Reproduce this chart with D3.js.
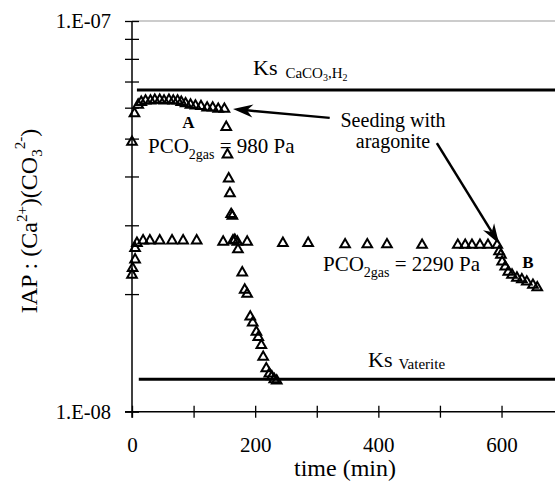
<!DOCTYPE html>
<html><head><meta charset="utf-8">
<script src="https://cdnjs.cloudflare.com/ajax/libs/d3/7.8.5/d3.min.js"></script>
<style>
body{margin:0;background:#fff;}
svg text{font-family:"Liberation Serif","Tinos","Times New Roman","DejaVu Serif",serif;}
</style></head>
<body><svg id="c" width="555" height="485"></svg>
<script>
// ---- data ----
const s1Time = [0,4,10,15,22,30,37,45,52,60,67,74,80,87,95,103,112,122,131,140,150,153,155,157,159,161,163,167,172,179,183,187,192,196,202,205,210,213,218,223,227,231,235];
const s1IAP  = [4.9e-8,5.8e-8,6.1e-8,6.2e-8,6.25e-8,6.25e-8,6.28e-8,6.28e-8,6.25e-8,6.28e-8,6.25e-8,6.25e-8,6.2e-8,6.15e-8,6.1e-8,6.07e-8,6.05e-8,6.0e-8,6.0e-8,5.95e-8,5.95e-8,5.35e-8,4.55e-8,3.95e-8,3.62e-8,3.2e-8,3.17e-8,2.75e-8,2.6e-8,2.27e-8,2.05e-8,2.0e-8,1.75e-8,1.69e-8,1.6e-8,1.55e-8,1.48e-8,1.38e-8,1.29e-8,1.25e-8,1.23e-8,1.21e-8,1.2e-8];
const s2Time = [0,1,5,5,8,18,29,45,65,83,105,148,164,171,187,245,286,346,382,414,471,529,541,552,565,578,593,596,599,601,606,611,617,625,633,641,651,658];
const s2IAP  = [2.24e-8,2.33e-8,2.45e-8,2.62e-8,2.7e-8,2.74e-8,2.74e-8,2.74e-8,2.74e-8,2.74e-8,2.74e-8,2.72e-8,2.74e-8,2.72e-8,2.72e-8,2.7e-8,2.7e-8,2.68e-8,2.68e-8,2.68e-8,2.67e-8,2.67e-8,2.67e-8,2.67e-8,2.67e-8,2.67e-8,2.67e-8,2.57e-8,2.52e-8,2.42e-8,2.35e-8,2.28e-8,2.24e-8,2.2e-8,2.18e-8,2.15e-8,2.11e-8,2.08e-8];
const ksCaCO3 = 6.66e-8;
const ksVaterite = 1.21e-8;
const xTicks = [0,100,200,300,400,500,600];
const xTickLabels = ["0","","200","","400","","600"];
const yTicks = [1e-8,2e-8,3e-8,4e-8,5e-8,6e-8,7e-8,8e-8,9e-8,1e-7];
const yTickLabels = ["1.E-08","","","","","","","","","1.E-07"];
// arrows: [tailTime, tailIAP, tipTime, tipIAP]
const arrows = [[321,5.65e-8,164,5.95e-8],[495,4.87e-8,596,2.69e-8]];

// ---- scales ----
const svg = d3.select("#c");
const x = d3.scaleLinear().domain([0,686]).range([132,554.5]);
const y = d3.scaleLog().domain([1e-8,1e-7]).range([411.7,21]);
const X0 = x(0), Y0 = y(1e-8);

// top frame line
svg.append("line").attr("x1",X0).attr("x2",555).attr("y1",y(1e-7)).attr("y2",y(1e-7))
  .attr("stroke","#999").attr("stroke-width",1);

// Ks lines
svg.append("line").attr("x1",x(8)).attr("x2",555).attr("y1",y(ksCaCO3)).attr("y2",y(ksCaCO3))
  .attr("stroke","#000").attr("stroke-width",3);
svg.append("line").attr("x1",x(11)).attr("x2",555).attr("y1",y(ksVaterite)).attr("y2",y(ksVaterite))
  .attr("stroke","#000").attr("stroke-width",3);

// axes
const xa = svg.append("g").attr("transform",`translate(0,${Y0})`)
  .call(d3.axisBottom(x).tickValues(xTicks).tickFormat((d,i)=>xTickLabels[i]).tickSize(6).tickPadding(0));
xa.attr("font-family",null);
xa.select(".domain").remove();
xa.selectAll(".tick line").attr("y1",-6).attr("y2",6).attr("stroke-width",1.3);
xa.selectAll(".tick text").attr("y",40).attr("dy",0).attr("font-size",21).attr("fill","#000");
svg.append("line").attr("x1",X0-7).attr("x2",555).attr("y1",Y0).attr("y2",Y0).attr("stroke","#000").attr("stroke-width",1.5);

const ya = svg.append("g").attr("transform",`translate(${X0},0)`)
  .call(d3.axisLeft(y).tickValues(yTicks).tickFormat((d,i)=>yTickLabels[i]).tickSize(6).tickPadding(0));
ya.attr("font-family",null);
ya.select(".domain").remove();
ya.selectAll(".tick line").attr("x1",7).attr("x2",-7).attr("stroke-width",1.3);
ya.selectAll(".tick text").attr("x",-21).attr("dy","0.33em").attr("font-size",20.5).attr("fill","#000");
svg.append("line").attr("x1",X0).attr("x2",X0).attr("y1",y(1e-7)).attr("y2",Y0+6).attr("stroke","#000").attr("stroke-width",1.5);

// axis titles
svg.append("text").attr("x",345).attr("y",476).attr("text-anchor","middle").attr("font-size",24).text("time (min)");
const yl = svg.append("text").attr("transform","translate(37,221) rotate(-90)").attr("text-anchor","middle").attr("font-size",24);
yl.append("tspan").text("IAP : (Ca");
yl.append("tspan").attr("dy",-10).attr("font-size",15).text("2+");
yl.append("tspan").attr("dy",10).text(")(CO");
yl.append("tspan").attr("dy",5).attr("font-size",15).text("3");
yl.append("tspan").attr("dy",-17).attr("font-size",15).text("2-");
yl.append("tspan").attr("dy",12).text(")");

// markers
const tri = d3.symbol().type(d3.symbolTriangle).size(40);
function plot(ts, vs){
  svg.append("g").selectAll("path").data(ts.map((t,i)=>[t,vs[i]])).join("path")
    .attr("d",tri).attr("transform",d=>`translate(${x(d[0])},${y(d[1])})`)
    .attr("fill","none").attr("stroke","#000").attr("stroke-width",2);
}
plot(s1Time,s1IAP);
plot(s2Time,s2IAP);

// arrows
arrows.forEach(a=>{
  const x1=x(a[0]),y1=y(a[1]),x2=x(a[2]),y2=y(a[3]);
  const ang=Math.atan2(y2-y1,x2-x1);
  const L=20,W=6.5,N=14;
  const bx=x2-L*Math.cos(ang), by=y2-L*Math.sin(ang);
  const nx=x2-N*Math.cos(ang), ny=y2-N*Math.sin(ang);
  const px=-Math.sin(ang), py=Math.cos(ang);
  svg.append("line").attr("x1",x1).attr("y1",y1).attr("x2",nx).attr("y2",ny).attr("stroke","#000").attr("stroke-width",2.5);
  svg.append("path").attr("d",`M${x2},${y2}L${bx+W*px},${by+W*py}L${nx},${ny}L${bx-W*px},${by-W*py}Z`).attr("fill","#000");
});

// annotations
svg.append("text").attr("x",188.5).attr("y",128).attr("text-anchor","middle").attr("font-size",17).attr("font-weight","bold").text("A");
svg.append("text").attr("x",528).attr("y",268).attr("text-anchor","middle").attr("font-size",17).attr("font-weight","bold").text("B");

function pco(xp, yp, rest){
  const t = svg.append("text").attr("x",xp).attr("y",yp).attr("font-size",21);
  t.append("tspan").text("PCO");
  t.append("tspan").attr("dy",6).attr("font-size",14).text("2gas");
  t.append("tspan").attr("dy",-6).text(rest);
}
pco(148,153," = 980 Pa");
pco(323,271," = 2290 Pa");

svg.append("text").attr("x",393).attr("y",127).attr("text-anchor","middle").attr("font-size",20).text("Seeding with");
svg.append("text").attr("x",393).attr("y",148).attr("text-anchor","middle").attr("font-size",20).text("aragonite");

function ks(xp, yp, build){
  const t = svg.append("text").attr("x",xp).attr("y",yp).attr("font-size",22);
  t.append("tspan").text("Ks");
  build(t);
}
ks(253,75,t=>{
  t.append("tspan").attr("dx",8).attr("dy",3).attr("font-size",15).text("CaCO");
  t.append("tspan").attr("dy",3).attr("font-size",10).text("3");
  t.append("tspan").attr("dy",-3).attr("font-size",15).text(",H");
  t.append("tspan").attr("dy",3).attr("font-size",10).text("2");
});
ks(368,367,t=>{
  t.append("tspan").attr("dx",6).attr("dy",2).attr("font-size",15).text("Vaterite");
});
</script></body></html>
